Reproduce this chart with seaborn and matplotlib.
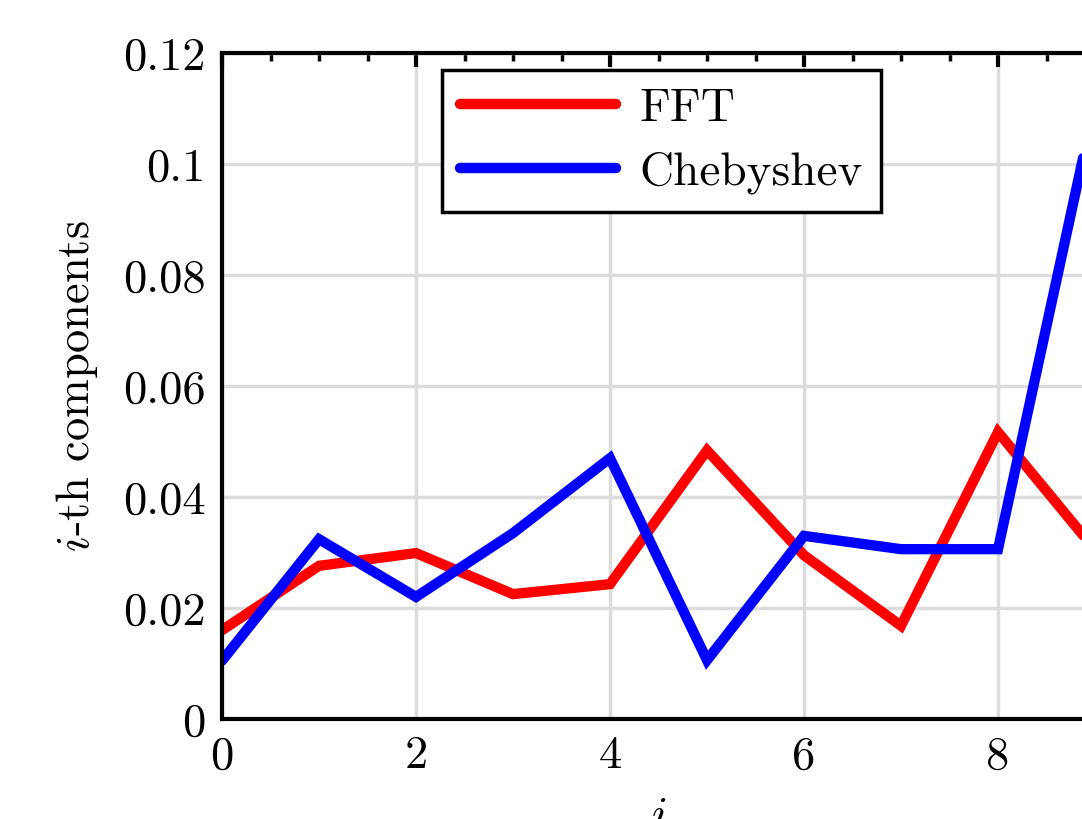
import numpy as np
import pandas as pd
import matplotlib
matplotlib.use("Agg")
import matplotlib.pyplot as plt
import seaborn as sns

x_idx = [0, 1, 2, 3, 4, 5, 6, 7, 8, 9]
fft_vals = [0.016, 0.0276, 0.0299, 0.0225, 0.0243, 0.0484, 0.0295, 0.0168, 0.0517, 0.0305]
cheb_vals = [0.0105, 0.0324, 0.0220, 0.0335, 0.0470, 0.0106, 0.0330, 0.0306, 0.0306, 0.111]
series_names = ["FFT", "Chebyshev"]
series_colors = ["#ff0000", "#0000ff"]
y_ticks = [0, 0.02, 0.04, 0.06, 0.08, 0.1, 0.12]
y_tick_labels = ["0", "0.02", "0.04", "0.06", "0.08", "0.1", "0.12"]
x_ticks = [0, 2, 4, 6, 8]

df = pd.DataFrame({
    "i": x_idx * 2,
    "value": fft_vals + cheb_vals,
    "method": [series_names[0]] * len(x_idx) + [series_names[1]] * len(x_idx),
})

sns.set_style("white")
plt.rcParams["font.family"] = ["serif"]
plt.rcParams["font.serif"] = ["cmr10", "DejaVu Serif"]
plt.rcParams["mathtext.fontset"] = "cm"
plt.rcParams["axes.unicode_minus"] = False
for k in ["text.color", "axes.labelcolor", "xtick.color", "ytick.color", "axes.edgecolor"]:
    plt.rcParams[k] = "black"

fig = plt.figure(figsize=(10.82, 8.19), dpi=100)
ax = fig.add_axes([222 / 1082, 1 - 719 / 819, (1095 - 222) / 1082, (719 - 53) / 819])

sns.lineplot(data=df, x="i", y="value", hue="method", palette=series_colors,
             linewidth=7.4, ax=ax, legend=True, solid_joinstyle="miter")

ax.set_xlim(0, 9)
ax.set_ylim(0, 0.12)
ax.set_xticks(x_ticks)
ax.set_xticklabels([str(v) for v in x_ticks])
ax.set_yticks(y_ticks)
ax.set_yticklabels(y_tick_labels)
ax.set_xticks(np.arange(0, 9.01, 0.5), minor=True)
ax.set_yticks(np.arange(0, 0.1201, 0.005), minor=True)

ax.grid(True, which="major", color="#dcdcdc", linewidth=2.5)
ax.set_axisbelow(True)
for s in ax.spines.values():
    s.set_linewidth(3)
    s.set_color("black")

ax.tick_params(axis="both", which="major", direction="in", length=10, width=3,
               labelsize=33.5, top=True, right=False, pad=12, colors="black")
ax.tick_params(axis="both", which="minor", direction="in", length=6, width=2.5,
               top=True, right=False)

ax.set_xlabel("$i$", fontsize=33.5, labelpad=14)
ax.set_ylabel("$i$-th components", fontsize=33.5, labelpad=16)

handles, labels = ax.get_legend_handles_labels()
leg = ax.legend(handles, labels, loc="upper left", bbox_to_anchor=(0.252, 0.9745),
                borderaxespad=0, fontsize=34, frameon=True, fancybox=False,
                edgecolor="black", handlelength=3.3, handletextpad=0.5,
                borderpad=0.38, labelspacing=0.45)
leg.get_frame().set_linewidth(2.5)
leg.get_frame().set_alpha(1)
for ln in leg.get_lines():
    ln.set_linewidth(7.5)

fig.savefig("out.png", dpi=100)
